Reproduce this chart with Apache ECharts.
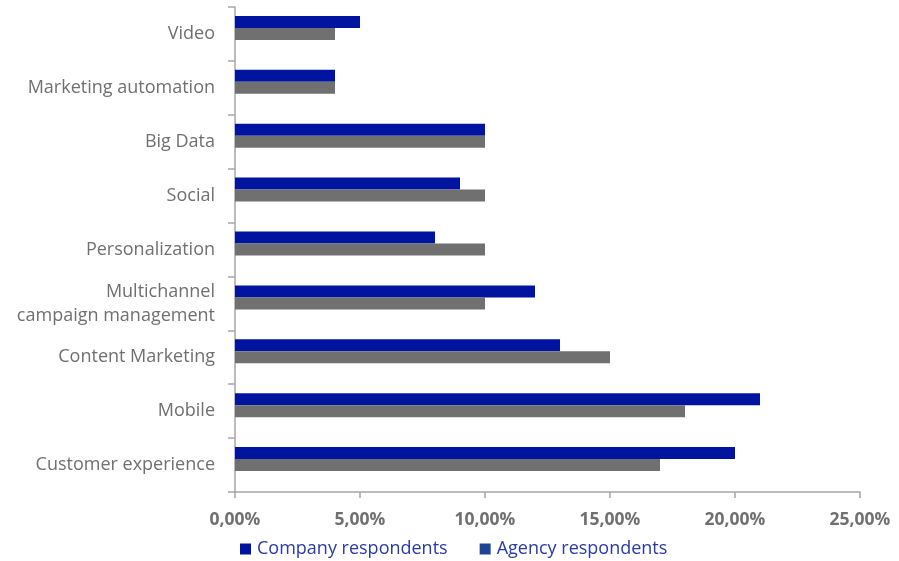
<!DOCTYPE html>
<html>
<head>
<meta charset="utf-8">
<script src="https://cdn.jsdelivr.net/npm/echarts@6/dist/echarts.min.js"></script>
<style>
  html, body { margin: 0; padding: 0; background: #fff; }
  #chart { width: 899px; height: 561px; }
</style>
</head>
<body>
<div id="chart"></div>
<script>
// Categories listed bottom to top (category axis starts at the bottom)
const categories = [
  'Customer experience',
  'Mobile',
  'Content Marketing',
  'Multichannel\ncampaign management',
  'Personalization',
  'Social',
  'Big Data',
  'Marketing automation',
  'Video'
];
// Shares in percent
const companyRespondents = [20, 21, 13, 12, 8, 9, 10, 4, 5];
const agencyRespondents  = [17, 18, 15, 10, 10, 10, 10, 4, 4];
const seriesNames = ['Company respondents', 'Agency respondents'];
const axisTicks = { min: 0, max: 25, interval: 5 };

const font = '"Open Sans", "DejaVu Sans", sans-serif';
const axisGray = '#a6a6a6';
const textGray = '#707070';

const chart = echarts.init(document.getElementById('chart'));
chart.setOption({
  animation: false,
  backgroundColor: '#ffffff',
  grid: { left: 235, right: 39, top: 7, bottom: 69, containLabel: false },
  legend: {
    left: 235,
    top: 535,
    icon: 'rect',
    itemWidth: 11,
    itemHeight: 11,
    itemGap: 32,
    textStyle: { color: '#2a3aa6', fontFamily: font, fontSize: 18, padding: [0, 0, 0, 1] },
    data: [
      { name: seriesNames[0], itemStyle: { color: '#0014a0' } },
      { name: seriesNames[1], itemStyle: { color: '#1d4595' } }
    ]
  },
  xAxis: {
    type: 'value',
    min: axisTicks.min,
    max: axisTicks.max,
    interval: axisTicks.interval,
    axisLine: { show: true, lineStyle: { color: axisGray, width: 1.5 } },
    axisTick: { show: true, length: 6, lineStyle: { color: axisGray, width: 1.5 } },
    splitLine: { show: false },
    axisLabel: {
      color: textGray,
      fontFamily: font,
      fontSize: 17.5,
      fontWeight: 'bold',
      margin: 19,
      formatter: v => v.toFixed(2).replace('.', ',') + '%'
    }
  },
  yAxis: {
    type: 'category',
    data: categories,
    axisLine: { show: true, lineStyle: { color: axisGray, width: 1.5 } },
    axisTick: { show: true, length: 7, lineStyle: { color: axisGray, width: 1.5 } },
    axisLabel: {
      color: textGray,
      fontFamily: font,
      fontSize: 18,
      margin: 20,
      lineHeight: 24,
      align: 'right'
    }
  },
  series: [
    {
      name: seriesNames[0],
      type: 'bar',
      data: companyRespondents,
      barWidth: 12,
      barGap: '0%',
      itemStyle: { color: '#0014a0' }
    },
    {
      name: seriesNames[1],
      type: 'bar',
      data: agencyRespondents,
      barWidth: 12,
      barGap: '0%',
      itemStyle: { color: '#707070' }
    },
    {
      // empty third slot keeps each pair sitting in the upper part of its band
      name: 'slot',
      type: 'bar',
      data: categories.map(() => null),
      barWidth: 12,
      barGap: '0%'
    }
  ]
});
</script>
</body>
</html>
